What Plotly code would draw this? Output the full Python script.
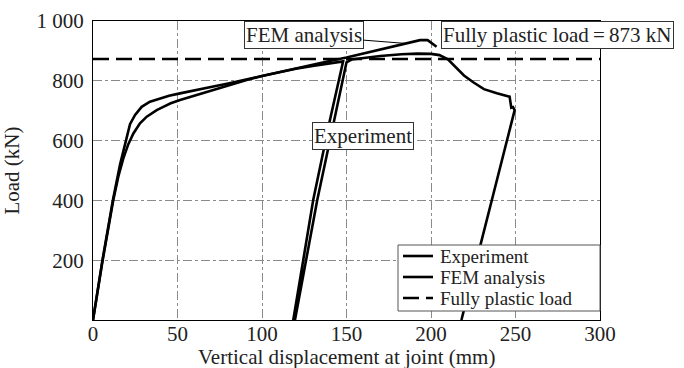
import plotly.graph_objects as go

# ---- data ----
exp_x = [0, 5.5, 11.9, 15, 17.9, 20.9, 23.9, 27.8, 31.8, 37.7, 41.6, 46, 51.5, 60, 71.2, 80, 90.9,
         100, 110, 120, 130, 140, 148,
         140.2, 130.3, 118.5,
         119.5, 132.7, 142.5, 147.5, 150,
         153, 160, 170, 182.6, 192, 200, 205, 210, 215, 219.5, 225, 231.3, 239, 246.5,
         247.5, 248.5, 249.5, 218]
exp_y = [0, 193, 398, 480, 540, 588, 624, 658, 680, 702, 713, 725, 736, 751, 769, 785, 803,
         816, 829, 840, 850, 858, 865,
         669, 401, 0,
         0, 401, 669, 800, 862,
         871, 877, 883, 889, 891, 890, 886, 872, 845, 818, 795, 772, 758, 747,
         710, 712, 702, 0]

fem_x = [0, 5.5, 11.9, 16, 19.5, 21.9, 24.9, 28.8, 33.7, 39.6, 45, 51.5, 60, 71.2, 80, 90.9,
         100, 110.7, 120, 130, 140, 150, 160, 170, 180, 185, 190, 193.5, 198, 200.4, 203.3]
fem_y = [0, 197, 405, 520, 600, 655, 686, 713, 730, 741, 750, 758, 769, 781, 791, 805,
         817, 830, 842, 854, 866, 878, 891, 903, 916, 925, 931, 936, 936, 926, 914]

plastic_load = 873
plastic_x = [0, 300]

x_ticks = [0, 50, 100, 150, 200, 250, 300]
y_ticks = [200, 400, 600, 800, 1000]
y_ticktext = ["200", "400", "600", "800", "1 000"]
legend_names = ["Experiment", "FEM analysis", "Fully plastic load"]
x_title = "Vertical displacement at joint (mm)"
y_title = "Load (kN)"

FONT = "Liberation Serif, Times New Roman, serif"
TXT = "#222222"
FS = 21
LEG_FS = 19
DASH = "16px,7px"

fig = go.Figure()
fig.add_trace(go.Scatter(x=exp_x, y=exp_y, mode="lines", name=legend_names[0],
                         line=dict(color="black", width=2.6), showlegend=False))
fig.add_trace(go.Scatter(x=fem_x, y=fem_y, mode="lines", name=legend_names[1],
                         line=dict(color="black", width=2.6), showlegend=False))
fig.add_trace(go.Scatter(x=plastic_x, y=[plastic_load] * len(plastic_x), mode="lines",
                         name=legend_names[2],
                         line=dict(color="black", width=2.6, dash=DASH), showlegend=False))

# plot-area pixel geometry
L, R, T, B = 93, 84, 21, 48
W, H = 684, 368
PW, PH = W - L - R, H - T - B


def px(x):
    return (x - L) / PW


def py(y):
    return (H - B - y) / PH


# ---- manual legend (compact rows as in the reference) ----
fig.add_shape(type="rect", xref="paper", yref="paper", x0=px(398), x1=px(600),
              y0=py(311), y1=py(245), fillcolor="white",
              line=dict(color="#555555", width=1), layer="above")
rows = [256, 277, 298]
for i, name in enumerate(legend_names):
    fig.add_shape(type="line", xref="paper", yref="paper", x0=px(403), x1=px(433),
                  y0=py(rows[i]), y1=py(rows[i]), layer="above",
                  line=dict(color="black", width=2.6, dash=DASH if i == 2 else "solid"))
    fig.add_annotation(xref="paper", yref="paper", x=px(438), y=py(rows[i]),
                       xanchor="left", yanchor="middle", text=name, showarrow=False,
                       font=dict(family=FONT, size=LEG_FS, color=TXT))

# ---- labels in boxes ----
box = dict(bgcolor="white", bordercolor="#333333", borderwidth=1, borderpad=1)
fig.add_annotation(x=185, y=925, xref="x", yref="y", text="FEM analysis",
                   showarrow=True, arrowhead=0, arrowwidth=1, arrowcolor="black",
                   ax=-102, ay=-8, font=dict(family=FONT, size=FS, color=TXT), **box)
fig.add_annotation(xref="paper", yref="paper", x=px(441), y=py(35), xanchor="left",
                   yanchor="middle", text="Fully plastic load\u2009=\u2009873 kN",
                   showarrow=False, font=dict(family=FONT, size=FS, color=TXT), **box)
fig.add_annotation(xref="paper", yref="paper", x=px(312), y=py(135.5), xanchor="left",
                   yanchor="middle", text="Experiment", showarrow=False,
                   font=dict(family=FONT, size=FS, color=TXT), **box)

# x-axis title as a positioned annotation (below tick labels)
fig.add_annotation(xref="paper", yref="paper", x=0.5, y=py(357), xanchor="center",
                   yanchor="middle", text=x_title, showarrow=False,
                   font=dict(family=FONT, size=FS, color=TXT))

axis_common = dict(showline=True, linecolor="black", linewidth=1, mirror=True,
                   showgrid=True, gridcolor="#8a8a8a", gridwidth=1, griddash="dashdot",
                   zeroline=False, ticks="", automargin=False,
                   tickfont=dict(family=FONT, size=FS, color=TXT),
                   title_font=dict(family=FONT, size=FS, color=TXT))

fig.update_xaxes(range=[0, 300], tickvals=x_ticks, ticklabelstandoff=-5, **axis_common)
fig.update_yaxes(range=[0, 1000], tickvals=y_ticks, ticktext=y_ticktext,
                 ticklabelstandoff=4, title_text=y_title, **axis_common)

fig.update_layout(width=W, height=H, margin=dict(l=L, r=R, t=T, b=B, autoexpand=False),
                  paper_bgcolor="white", plot_bgcolor="white",
                  font=dict(family=FONT, size=FS, color=TXT))

fig.write_html("out.html")
